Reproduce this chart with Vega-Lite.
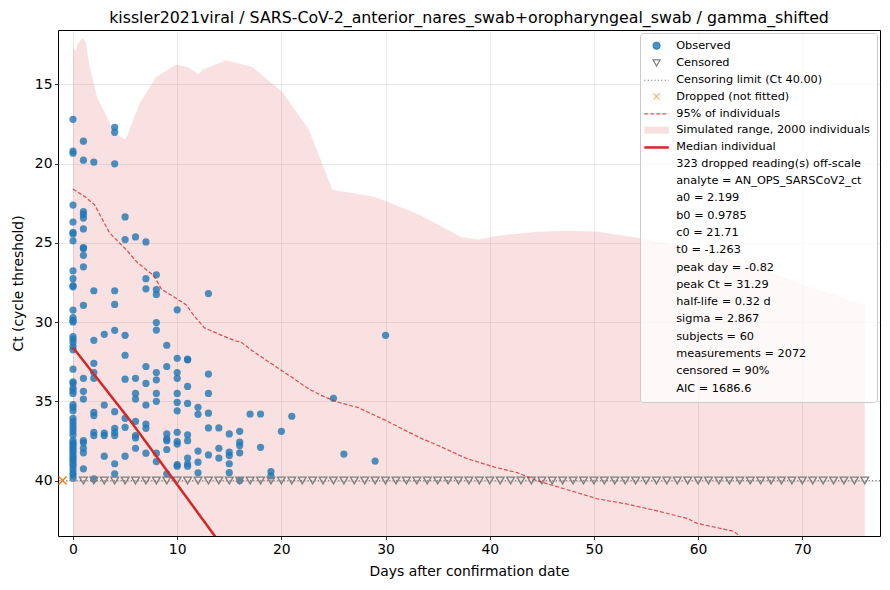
{
  "$schema": "https://vega.github.io/schema/vega-lite/v6.json",
  "autosize": "none",
  "width": 822,
  "height": 506,
  "padding": {"left": 58, "top": 30, "right": 10, "bottom": 54},
  "background": "white",
  "title": {
    "text": "kissler2021viral / SARS-CoV-2_anterior_nares_swab+oropharyngeal_swab / gamma_shifted",
    "font": "DejaVu Sans",
    "fontSize": 15.8,
    "fontWeight": "normal",
    "color": "black",
    "anchor": "middle",
    "offset": 3
  },
  "datasets": {
    "sim": [
      {"day": 0, "upper": 12.64, "lower": 45}, {"day": 0.26, "upper": 12.89, "lower": 45},
      {"day": 0.48, "upper": 12.42, "lower": 45}, {"day": 0.9, "upper": 12.07, "lower": 45},
      {"day": 1.22, "upper": 12.32, "lower": 45}, {"day": 1.6, "upper": 13.89, "lower": 45},
      {"day": 2.3, "upper": 15.78, "lower": 45}, {"day": 4.0, "upper": 18.04, "lower": 45},
      {"day": 4.95, "upper": 18.46, "lower": 45}, {"day": 5.17, "upper": 18.3, "lower": 45},
      {"day": 6.38, "upper": 16.2, "lower": 45}, {"day": 7.98, "upper": 14.52, "lower": 45},
      {"day": 9.9, "upper": 13.74, "lower": 45}, {"day": 11.0, "upper": 13.89, "lower": 45},
      {"day": 12.05, "upper": 14.35, "lower": 45}, {"day": 12.5, "upper": 14.06, "lower": 45},
      {"day": 14.68, "upper": 13.47, "lower": 45}, {"day": 17.2, "upper": 13.89, "lower": 45},
      {"day": 20.1, "upper": 15.47, "lower": 45}, {"day": 22.65, "upper": 17.87, "lower": 45},
      {"day": 24.9, "upper": 21.65, "lower": 45}, {"day": 29, "upper": 22.1, "lower": 45},
      {"day": 33.2, "upper": 23.2, "lower": 45}, {"day": 37.3, "upper": 24.65, "lower": 45},
      {"day": 38.9, "upper": 24.79, "lower": 45}, {"day": 40.8, "upper": 24.54, "lower": 45},
      {"day": 44.7, "upper": 24.29, "lower": 45}, {"day": 47.5, "upper": 24.23, "lower": 45},
      {"day": 50.4, "upper": 24.29, "lower": 45}, {"day": 54.2, "upper": 24.67, "lower": 45},
      {"day": 60, "upper": 25.4, "lower": 45}, {"day": 65.7, "upper": 26.56, "lower": 45},
      {"day": 71.4, "upper": 27.94, "lower": 45}, {"day": 76, "upper": 28.9, "lower": 45}
    ],
    "p95": [
      {"day": 0, "ct": 21.6}, {"day": 1.12, "ct": 22.07}, {"day": 2.08, "ct": 22.6},
      {"day": 3.5, "ct": 24.36}, {"day": 5.1, "ct": 25.42}, {"day": 6.2, "ct": 26.25},
      {"day": 7.8, "ct": 27.1}, {"day": 8.46, "ct": 27.9}, {"day": 9.9, "ct": 28.5},
      {"day": 10.85, "ct": 28.9}, {"day": 11.5, "ct": 29.5}, {"day": 12.6, "ct": 30.35},
      {"day": 14.04, "ct": 30.77}, {"day": 15.6, "ct": 31.19}, {"day": 16.1, "ct": 31.25},
      {"day": 17.2, "ct": 31.8}, {"day": 19.1, "ct": 32.65}, {"day": 21.05, "ct": 33.5},
      {"day": 22.65, "ct": 34.23}, {"day": 24.25, "ct": 34.75}, {"day": 25.5, "ct": 35.06},
      {"day": 27.4, "ct": 35.4}, {"day": 30, "ct": 36.2}, {"day": 33.3, "ct": 37.3},
      {"day": 35.1, "ct": 37.8}, {"day": 37.75, "ct": 38.6}, {"day": 40.45, "ct": 39.15},
      {"day": 42.65, "ct": 39.5}, {"day": 44.5, "ct": 40.0}, {"day": 47.05, "ct": 40.5},
      {"day": 50.3, "ct": 41.15}, {"day": 53, "ct": 41.46}, {"day": 56, "ct": 41.9},
      {"day": 59, "ct": 42.4}, {"day": 59.9, "ct": 42.7}, {"day": 63.4, "ct": 43.2},
      {"day": 64.2, "ct": 43.6}
    ],
    "median": [
      {"day": 0, "ct": 31.6}, {"day": 5.43, "ct": 36.16}, {"day": 11, "ct": 41.15}, {"day": 14, "ct": 43.85}
    ],
    "obs": [
      {"day": 0, "ct": 17.2}, {"day": 0, "ct": 19.2}, {"day": 0, "ct": 19.34}, {"day": 0, "ct": 22.61},
      {"day": 0, "ct": 23.68}, {"day": 0, "ct": 24.33}, {"day": 0, "ct": 24.43}, {"day": 0, "ct": 24.87},
      {"day": 0, "ct": 26.76}, {"day": 0, "ct": 27.26}, {"day": 0, "ct": 27.69}, {"day": 0, "ct": 27.77},
      {"day": 0, "ct": 29.24}, {"day": 0, "ct": 29.72}, {"day": 0, "ct": 29.89}, {"day": 0, "ct": 29.99},
      {"day": 0, "ct": 30.91}, {"day": 0, "ct": 31.08}, {"day": 0, "ct": 31.29}, {"day": 0, "ct": 31.54},
      {"day": 0, "ct": 31.75}, {"day": 0, "ct": 32.97}, {"day": 0, "ct": 33.77}, {"day": 0, "ct": 33.87},
      {"day": 0, "ct": 34.18}, {"day": 0, "ct": 34.33}, {"day": 0, "ct": 34.5}, {"day": 0, "ct": 35.21},
      {"day": 0, "ct": 35.38}, {"day": 0, "ct": 35.59}, {"day": 0, "ct": 36.07}, {"day": 0, "ct": 36.28},
      {"day": 0, "ct": 36.49}, {"day": 0, "ct": 36.7}, {"day": 0, "ct": 36.91}, {"day": 0, "ct": 37.12},
      {"day": 0, "ct": 37.48}, {"day": 0, "ct": 37.62}, {"day": 0, "ct": 37.73}, {"day": 0, "ct": 37.88},
      {"day": 0, "ct": 38.01}, {"day": 0, "ct": 38.15}, {"day": 0, "ct": 38.3}, {"day": 0, "ct": 38.46},
      {"day": 0, "ct": 38.61}, {"day": 0, "ct": 38.74}, {"day": 0, "ct": 38.92}, {"day": 0, "ct": 39.08},
      {"day": 0, "ct": 39.29}, {"day": 0, "ct": 39.5}, {"day": 0, "ct": 39.65}, {"day": 0, "ct": 39.85},
      {"day": 1, "ct": 18.58}, {"day": 1, "ct": 19.78}, {"day": 1, "ct": 23.03}, {"day": 1, "ct": 23.2},
      {"day": 1, "ct": 23.43}, {"day": 1, "ct": 24.12}, {"day": 1, "ct": 25.3}, {"day": 1, "ct": 25.35},
      {"day": 1, "ct": 25.78}, {"day": 1, "ct": 26.51}, {"day": 1, "ct": 28.94}, {"day": 1, "ct": 33.55},
      {"day": 1, "ct": 34.37}, {"day": 1, "ct": 34.86}, {"day": 1, "ct": 37.48}, {"day": 1, "ct": 37.62},
      {"day": 1, "ct": 37.96}, {"day": 1, "ct": 38.25}, {"day": 1, "ct": 39.26},
      {"day": 2, "ct": 19.9}, {"day": 2, "ct": 28.02}, {"day": 2, "ct": 31.15}, {"day": 2, "ct": 32.6},
      {"day": 2, "ct": 33.18}, {"day": 2, "ct": 33.55}, {"day": 2, "ct": 35.69}, {"day": 2, "ct": 35.9},
      {"day": 2, "ct": 36.95}, {"day": 2, "ct": 37.16}, {"day": 2, "ct": 39.9},
      {"day": 3, "ct": 30.77}, {"day": 3, "ct": 35.23}, {"day": 3, "ct": 37.0}, {"day": 3, "ct": 37.16},
      {"day": 3, "ct": 38.46},
      {"day": 4, "ct": 17.7}, {"day": 4, "ct": 18.02}, {"day": 4, "ct": 20.01}, {"day": 4, "ct": 28.02},
      {"day": 4, "ct": 28.88}, {"day": 4, "ct": 30.52}, {"day": 4, "ct": 35.65}, {"day": 4, "ct": 36.7},
      {"day": 4, "ct": 36.95}, {"day": 4, "ct": 37.16}, {"day": 4, "ct": 38.94}, {"day": 4, "ct": 39.57},
      {"day": 5, "ct": 23.36}, {"day": 5, "ct": 24.79}, {"day": 5, "ct": 30.83}, {"day": 5, "ct": 32.09},
      {"day": 5, "ct": 33.6}, {"day": 5, "ct": 36.07}, {"day": 5, "ct": 36.64}, {"day": 5, "ct": 38.46},
      {"day": 6, "ct": 24.62}, {"day": 6, "ct": 33.55}, {"day": 6, "ct": 34.5}, {"day": 6, "ct": 34.86},
      {"day": 6, "ct": 36.26}, {"day": 6, "ct": 37.16}, {"day": 6, "ct": 37.31}, {"day": 6, "ct": 37.96},
      {"day": 7, "ct": 24.94}, {"day": 7, "ct": 27.26}, {"day": 7, "ct": 27.9}, {"day": 7, "ct": 32.8},
      {"day": 7, "ct": 33.87}, {"day": 7, "ct": 35.23}, {"day": 7, "ct": 36.43}, {"day": 7, "ct": 36.7},
      {"day": 7, "ct": 38.27},
      {"day": 8, "ct": 27.01}, {"day": 8, "ct": 27.94}, {"day": 8, "ct": 28.25}, {"day": 8, "ct": 30.03},
      {"day": 8, "ct": 30.5}, {"day": 8, "ct": 33.18}, {"day": 8, "ct": 33.64}, {"day": 8, "ct": 34.5},
      {"day": 8, "ct": 35.0}, {"day": 8, "ct": 38.27}, {"day": 8, "ct": 38.8},
      {"day": 9, "ct": 31.46}, {"day": 9, "ct": 32.8}, {"day": 9, "ct": 37.06}, {"day": 9, "ct": 37.37},
      {"day": 9, "ct": 37.48}, {"day": 9, "ct": 38.04}, {"day": 9, "ct": 39.57},
      {"day": 10, "ct": 29.22}, {"day": 10, "ct": 32.28}, {"day": 10, "ct": 33.18}, {"day": 10, "ct": 33.55},
      {"day": 10, "ct": 34.5}, {"day": 10, "ct": 35.07}, {"day": 10, "ct": 35.6}, {"day": 10, "ct": 36.95},
      {"day": 10, "ct": 37.54}, {"day": 10, "ct": 37.7}, {"day": 10, "ct": 39.0}, {"day": 10, "ct": 39.09},
      {"day": 11, "ct": 32.34}, {"day": 11, "ct": 32.38}, {"day": 11, "ct": 34.06}, {"day": 11, "ct": 35.13},
      {"day": 11, "ct": 37.11}, {"day": 11, "ct": 37.48}, {"day": 11, "ct": 38.58}, {"day": 11, "ct": 38.94},
      {"day": 11, "ct": 39.09},
      {"day": 12, "ct": 35.38}, {"day": 12, "ct": 35.82}, {"day": 12, "ct": 38.14}, {"day": 12, "ct": 38.84},
      {"day": 12, "ct": 39.51},
      {"day": 13, "ct": 28.2}, {"day": 13, "ct": 33.28}, {"day": 13, "ct": 34.5}, {"day": 13, "ct": 35.75},
      {"day": 13, "ct": 36.68}, {"day": 13, "ct": 38.38},
      {"day": 14, "ct": 36.68}, {"day": 14, "ct": 37.96}, {"day": 14, "ct": 38.58},
      {"day": 15, "ct": 37.06}, {"day": 15, "ct": 38.21}, {"day": 15, "ct": 38.42}, {"day": 15, "ct": 38.94},
      {"day": 15, "ct": 39.5},
      {"day": 16, "ct": 36.89}, {"day": 16, "ct": 37.58}, {"day": 16, "ct": 37.79}, {"day": 16, "ct": 38.25},
      {"day": 16, "ct": 40.0},
      {"day": 17, "ct": 35.8}, {"day": 18, "ct": 35.8}, {"day": 18, "ct": 37.9},
      {"day": 19, "ct": 39.43}, {"day": 19, "ct": 39.7}, {"day": 20, "ct": 36.89}, {"day": 21, "ct": 35.94},
      {"day": 25, "ct": 34.81}, {"day": 26, "ct": 38.33}, {"day": 29, "ct": 38.77}, {"day": 30, "ct": 30.83}
    ],
    "cens": [
      {"day": 1, "ct": 40}, {"day": 2, "ct": 40}, {"day": 3, "ct": 40}, {"day": 4, "ct": 40},
      {"day": 5, "ct": 40}, {"day": 6, "ct": 40}, {"day": 7, "ct": 40}, {"day": 8, "ct": 40},
      {"day": 9, "ct": 40}, {"day": 10, "ct": 40}, {"day": 11, "ct": 40}, {"day": 12, "ct": 40},
      {"day": 13, "ct": 40}, {"day": 14, "ct": 40}, {"day": 15, "ct": 40}, {"day": 16, "ct": 40},
      {"day": 17, "ct": 40}, {"day": 18, "ct": 40}, {"day": 19, "ct": 40}, {"day": 20, "ct": 40},
      {"day": 21, "ct": 40}, {"day": 22, "ct": 40}, {"day": 23, "ct": 40}, {"day": 24, "ct": 40},
      {"day": 25, "ct": 40}, {"day": 26, "ct": 40}, {"day": 27, "ct": 40}, {"day": 28, "ct": 40},
      {"day": 29, "ct": 40}, {"day": 30, "ct": 40}, {"day": 31, "ct": 40}, {"day": 32, "ct": 40},
      {"day": 33, "ct": 40}, {"day": 34, "ct": 40}, {"day": 35, "ct": 40}, {"day": 36, "ct": 40},
      {"day": 37, "ct": 40}, {"day": 38, "ct": 40}, {"day": 39, "ct": 40}, {"day": 40, "ct": 40},
      {"day": 41, "ct": 40}, {"day": 42, "ct": 40}, {"day": 43, "ct": 40}, {"day": 44, "ct": 40},
      {"day": 45, "ct": 40}, {"day": 46, "ct": 40}, {"day": 47, "ct": 40}, {"day": 48, "ct": 40},
      {"day": 49, "ct": 40}, {"day": 50, "ct": 40}, {"day": 51, "ct": 40}, {"day": 52, "ct": 40},
      {"day": 53, "ct": 40}, {"day": 54, "ct": 40}, {"day": 55, "ct": 40}, {"day": 56, "ct": 40},
      {"day": 57, "ct": 40}, {"day": 58, "ct": 40}, {"day": 59, "ct": 40}, {"day": 60, "ct": 40},
      {"day": 61, "ct": 40}, {"day": 62, "ct": 40}, {"day": 63, "ct": 40}, {"day": 64, "ct": 40},
      {"day": 65, "ct": 40}, {"day": 66, "ct": 40}, {"day": 67, "ct": 40}, {"day": 68, "ct": 40},
      {"day": 69, "ct": 40}, {"day": 70, "ct": 40}, {"day": 71, "ct": 40}, {"day": 72, "ct": 40},
      {"day": 73, "ct": 40}, {"day": 74, "ct": 40}, {"day": 75, "ct": 40}, {"day": 76, "ct": 40}
    ],
    "dropped": [{"day": -1, "ct": 40}],
    "limit": [{"ct": 40}],
    "leg": [
      {"entry": "Observed"}, {"entry": "Censored"}, {"entry": "Censoring limit (Ct 40.00)"},
      {"entry": "Dropped (not fitted)"}, {"entry": "95% of individuals"},
      {"entry": "Simulated range, 2000 individuals"}, {"entry": "Median individual"},
      {"entry": "323 dropped reading(s) off-scale"}, {"entry": "analyte = AN_OPS_SARSCoV2_ct"},
      {"entry": "a0 = 2.199"}, {"entry": "b0 = 0.9785"}, {"entry": "c0 = 21.71"},
      {"entry": "t0 = -1.263"}, {"entry": "peak day = -0.82"}, {"entry": "peak Ct = 31.29"},
      {"entry": "half-life = 0.32 d"}, {"entry": "sigma = 2.867"}, {"entry": "subjects = 60"},
      {"entry": "measurements = 2072"}, {"entry": "censored = 90%"}, {"entry": "AIC = 1686.6"}
    ]
  },
  "layer": [
    {
      "data": {"name": "sim"},
      "mark": {"type": "area", "color": "#d62728", "opacity": 0.14, "clip": true},
      "encoding": {
        "x": {
          "field": "day", "type": "quantitative",
          "scale": {"domain": [-1.44, 77.46], "nice": false, "zero": false},
          "axis": {"values": [0, 10, 20, 30, 40, 50, 60, 70], "title": "Days after confirmation date"}
        },
        "y": {
          "field": "upper", "type": "quantitative",
          "scale": {"domain": [11.56, 43.5], "reverse": true, "nice": false, "zero": false},
          "axis": {"values": [15, 20, 25, 30, 35, 40], "title": "Ct (cycle threshold)"}
        },
        "y2": {"field": "lower"}
      }
    },
    {
      "data": {"name": "obs"},
      "mark": {"type": "point", "filled": true, "shape": "circle", "size": 52, "color": "#1f77b4", "opacity": 0.8, "clip": true},
      "encoding": {
        "x": {"field": "day", "type": "quantitative"},
        "y": {"field": "ct", "type": "quantitative"}
      }
    },
    {
      "data": {"name": "limit"},
      "mark": {"type": "rule", "color": "#808080", "strokeWidth": 1.2, "strokeDash": [1.2, 2.2]},
      "encoding": {"y": {"field": "ct", "type": "quantitative"}}
    },
    {
      "data": {"name": "cens"},
      "mark": {"type": "point", "filled": false, "shape": "triangle-down", "size": 60, "color": "#7f7f7f", "strokeWidth": 1.3, "opacity": 1, "clip": true},
      "encoding": {
        "x": {"field": "day", "type": "quantitative"},
        "y": {"field": "ct", "type": "quantitative"}
      }
    },
    {
      "data": {"name": "dropped"},
      "mark": {"type": "point", "filled": false, "shape": "M-1,-1L1,1M1,-1L-1,1", "size": 64, "color": "#ff7f0e", "strokeWidth": 1.5, "opacity": 1},
      "encoding": {
        "x": {"field": "day", "type": "quantitative"},
        "y": {"field": "ct", "type": "quantitative"}
      }
    },
    {
      "data": {"name": "p95"},
      "mark": {"type": "line", "color": "#d62728", "opacity": 0.8, "strokeWidth": 1.2, "strokeDash": [4, 2], "clip": true},
      "encoding": {
        "x": {"field": "day", "type": "quantitative"},
        "y": {"field": "ct", "type": "quantitative"}
      }
    },
    {
      "data": {"name": "median"},
      "mark": {"type": "line", "color": "#d62728", "strokeWidth": 2.5, "clip": true},
      "encoding": {
        "x": {"field": "day", "type": "quantitative"},
        "y": {"field": "ct", "type": "quantitative"}
      }
    },
    {
      "data": {"name": "leg"},
      "mark": {"type": "point"},
      "encoding": {
        "x": {"field": "nox", "type": "quantitative"},
        "y": {"field": "noy", "type": "quantitative"},
        "fill": {
          "field": "entry", "type": "nominal",
          "scale": {
            "domain": ["Observed", "Censored", "Censoring limit (Ct 40.00)", "Dropped (not fitted)", "95% of individuals", "Simulated range, 2000 individuals", "Median individual", "323 dropped reading(s) off-scale", "analyte = AN_OPS_SARSCoV2_ct", "a0 = 2.199", "b0 = 0.9785", "c0 = 21.71", "t0 = -1.263", "peak day = -0.82", "peak Ct = 31.29", "half-life = 0.32 d", "sigma = 2.867", "subjects = 60", "measurements = 2072", "censored = 90%", "AIC = 1686.6"],
            "range": ["rgba(31,119,180,0.8)", "transparent", "transparent", "transparent", "transparent", "rgba(214,39,40,0.15)", "#d62728", "transparent", "transparent", "transparent", "transparent", "transparent", "transparent", "transparent", "transparent", "transparent", "transparent", "transparent", "transparent", "transparent", "transparent"]
          },
          "legend": {"title": null}
        },
        "stroke": {
          "field": "entry", "type": "nominal",
          "scale": {
            "domain": ["Observed", "Censored", "Censoring limit (Ct 40.00)", "Dropped (not fitted)", "95% of individuals", "Simulated range, 2000 individuals", "Median individual", "323 dropped reading(s) off-scale", "analyte = AN_OPS_SARSCoV2_ct", "a0 = 2.199", "b0 = 0.9785", "c0 = 21.71", "t0 = -1.263", "peak day = -0.82", "peak Ct = 31.29", "half-life = 0.32 d", "sigma = 2.867", "subjects = 60", "measurements = 2072", "censored = 90%", "AIC = 1686.6"],
            "range": ["rgba(31,119,180,0.8)", "#7f7f7f", "#808080", "rgba(255,127,14,0.6)", "rgba(214,39,40,0.8)", "transparent", "transparent", "transparent", "transparent", "transparent", "transparent", "transparent", "transparent", "transparent", "transparent", "transparent", "transparent", "transparent", "transparent", "transparent", "transparent"]
          },
          "legend": {"title": null}
        },
        "shape": {
          "field": "entry", "type": "nominal",
          "scale": {
            "domain": ["Observed", "Censored", "Censoring limit (Ct 40.00)", "Dropped (not fitted)", "95% of individuals", "Simulated range, 2000 individuals", "Median individual", "323 dropped reading(s) off-scale", "analyte = AN_OPS_SARSCoV2_ct", "a0 = 2.199", "b0 = 0.9785", "c0 = 21.71", "t0 = -1.263", "peak day = -0.82", "peak Ct = 31.29", "half-life = 0.32 d", "sigma = 2.867", "subjects = 60", "measurements = 2072", "censored = 90%", "AIC = 1686.6"],
            "range": ["circle", "triangle-down", "M-3.5,0H3.5", "M-0.9,-0.9L0.9,0.9M0.9,-0.9L-0.9,0.9", "M-3.5,0H3.5", "M-3.5,-1H3.5V1H-3.5Z", "M-3.5,-0.36H3.5V0.36H-3.5Z", "circle", "circle", "circle", "circle", "circle", "circle", "circle", "circle", "circle", "circle", "circle", "circle", "circle", "circle"]
          },
          "legend": {"title": null}
        },
        "strokeDash": {
          "field": "entry", "type": "nominal",
          "scale": {
            "domain": ["Observed", "Censored", "Censoring limit (Ct 40.00)", "Dropped (not fitted)", "95% of individuals", "Simulated range, 2000 individuals", "Median individual", "323 dropped reading(s) off-scale", "analyte = AN_OPS_SARSCoV2_ct", "a0 = 2.199", "b0 = 0.9785", "c0 = 21.71", "t0 = -1.263", "peak day = -0.82", "peak Ct = 31.29", "half-life = 0.32 d", "sigma = 2.867", "subjects = 60", "measurements = 2072", "censored = 90%", "AIC = 1686.6"],
            "range": [[1, 0], [1, 0], [1.2, 2.2], [1, 0], [4, 2], [1, 0], [1, 0], [1, 0], [1, 0], [1, 0], [1, 0], [1, 0], [1, 0], [1, 0], [1, 0], [1, 0], [1, 0], [1, 0], [1, 0], [1, 0], [1, 0]]
          },
          "legend": {"title": null}
        }
      }
    }
  ],
  "config": {
    "font": "DejaVu Sans",
    "view": {"stroke": "black", "strokeWidth": 1},
    "axis": {
      "domain": false,
      "grid": true,
      "gridColor": "#b0b0b0",
      "gridOpacity": 0.35,
      "gridWidth": 0.8,
      "zindex": 1,
      "ticks": true,
      "tickColor": "black",
      "tickSize": 3.5,
      "tickWidth": 0.8,
      "labelFont": "DejaVu Sans",
      "labelFontSize": 13.9,
      "labelColor": "black",
      "labelPadding": 2.5,
      "labelFlush": false,
      "titleFont": "DejaVu Sans",
      "titleFontSize": 13.9,
      "titleFontWeight": "normal",
      "titleColor": "black"
    },
    "axisX": {"titlePadding": 9},
    "axisY": {"titlePadding": 9},
    "legend": {
      "orient": "top-right",
      "offset": 3,
      "fillColor": "rgba(255,255,255,0.8)",
      "strokeColor": "#cccccc",
      "cornerRadius": 3,
      "padding": 7,
      "labelFont": "DejaVu Sans",
      "labelFontSize": 11.3,
      "labelColor": "black",
      "labelLimit": 400,
      "labelOffset": 14,
      "symbolOffset": 3.9,
      "symbolSize": 49,
      "symbolStrokeWidth": 1.2,
      "symbolFillColor": "transparent",
      "symbolStrokeColor": "transparent",
      "symbolOpacity": 1,
      "rowPadding": 4.3
    }
  }
}
